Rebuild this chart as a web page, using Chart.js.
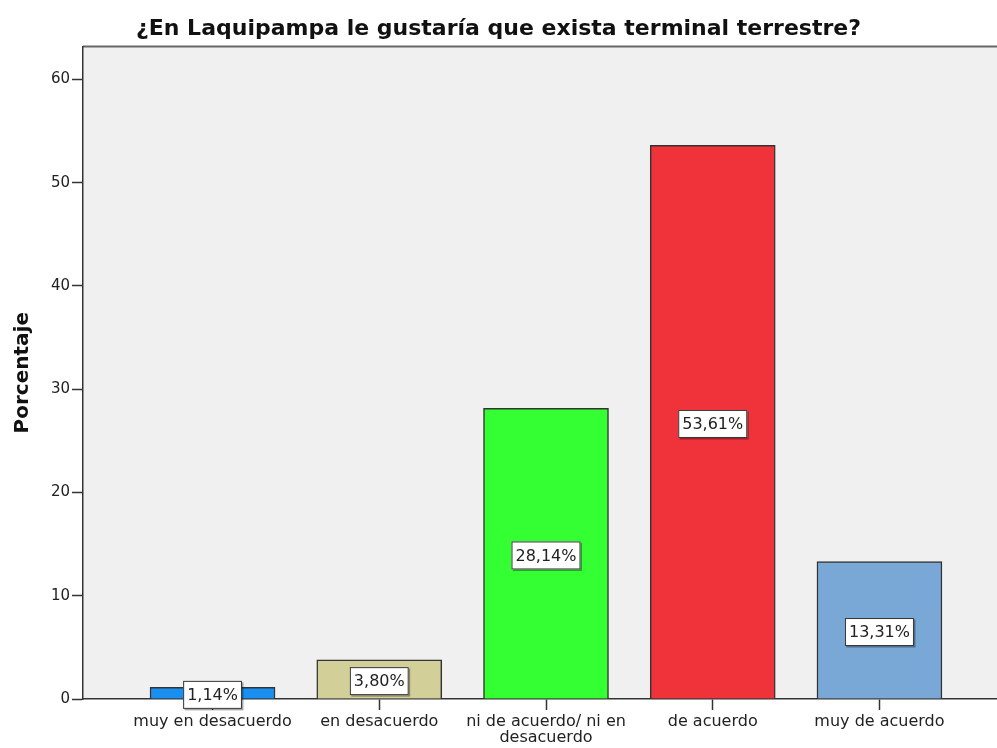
<!DOCTYPE html>
<html>
<head>
<meta charset="utf-8">
<script src="https://cdn.jsdelivr.net/npm/chart.js@4"></script>
<style>
  html, body { margin: 0; padding: 0; background: #fff; }
  canvas { display: block; }
</style>
</head>
<body>
<canvas id="myChart" width="997" height="748"></canvas>
<script>
// data
const categories = [
    "muy en desacuerdo",
    "en desacuerdo",
    ["ni de acuerdo/ ni en", "desacuerdo"],
    "de acuerdo",
    "muy de acuerdo",
];
const percentages = [1.14, 3.8, 28.14, 53.61, 13.31];
const barColors = ["#1a8ff2", "#d3cf99", "#33ff33", "#f0323a", "#79a8d6"];
const yTicks = [0, 10, 20, 30, 40, 50, 60];

const textColor = "#222";
const lineColor = "#333";

Chart.defaults.font.family = "'DejaVu Sans', sans-serif";
Chart.defaults.color = textColor;

// grey plot background + top frame line
const plotBackground = {
    id: "plotBackground",
    beforeDraw(chart) {
        const { ctx, chartArea: a } = chart;
        ctx.save();
        ctx.fillStyle = "#f0f0f0";
        ctx.fillRect(a.left, a.top, a.right - a.left, a.bottom - a.top);
        ctx.strokeStyle = "#666";
        ctx.lineWidth = 2;
        ctx.beginPath();
        ctx.moveTo(a.left, a.top);
        ctx.lineTo(a.right, a.top);
        ctx.stroke();
        ctx.restore();
    },
};

// white boxes with the percentage in the middle of each bar
const barLabels = {
    id: "barLabels",
    afterDatasetsDraw(chart) {
        const { ctx } = chart;
        const meta = chart.getDatasetMeta(0);
        ctx.save();
        ctx.font = "16px 'DejaVu Sans', sans-serif";
        ctx.textAlign = "center";
        ctx.textBaseline = "middle";
        meta.data.forEach((bar, i) => {
            const text = percentages[i].toFixed(2).replace(".", ",") + "%";
            const w = ctx.measureText(text).width + 8;
            const h = 28;
            const cx = bar.x;
            const cy = (bar.y + bar.base) / 2 + 2;
            // little shadow
            ctx.fillStyle = "rgba(0,0,0,0.35)";
            ctx.fillRect(cx - w / 2 + 1.5, cy - h / 2 + 1.5, w, h);
            ctx.fillStyle = "#fff";
            ctx.fillRect(cx - w / 2, cy - h / 2, w, h);
            ctx.strokeStyle = lineColor;
            ctx.lineWidth = 1;
            ctx.strokeRect(cx - w / 2 + 0.5, cy - h / 2 + 0.5, w - 1, h - 1);
            ctx.fillStyle = textColor;
            ctx.fillText(text, cx, cy + 1);
        });
        ctx.restore();
    },
};

const ctx = document.getElementById("myChart").getContext("2d");
const chart = new Chart(ctx, {
    type: "bar",
    data: {
        datasets: [
            {
                data: percentages.map((v, i) => ({ x: i, y: v })),
                backgroundColor: barColors,
                borderColor: lineColor,
                borderWidth: 1.5,
                barThickness: 125,
            },
        ],
    },
    plugins: [plotBackground, barLabels],
    options: {
        responsive: false,
        animation: false,
        layout: { padding: 0 },
        plugins: {
            legend: { display: false },
            tooltip: { enabled: false },
            title: {
                display: true,
                text: "¿En Laquipampa le gustaría que exista terminal terrestre?",
                color: "#111",
                font: { size: 22, weight: "bold" },
                padding: { top: 16, bottom: 4 },
            },
        },
        scales: {
            x: {
                type: "linear",
                offset: false,
                min: -0.777,
                max: 4.705,
                afterBuildTicks: (scale) => {
                    scale.ticks = categories.map((c, i) => ({ value: i }));
                },
                afterFit: (scale) => {
                    scale.height = 49;
                },
                grid: {
                    offset: false,
                    drawOnChartArea: false,
                    tickLength: 11,
                    tickColor: lineColor,
                    tickWidth: 1.5,
                },
                border: { color: lineColor, width: 1.5 },
                ticks: {
                    autoSkip: false,
                    maxRotation: 0,
                    padding: 4,
                    font: { size: 16, lineHeight: 1.0 },
                    callback: (value) => categories[value],
                },
            },
            y: {
                min: 0,
                max: 63.2,
                afterBuildTicks: (scale) => {
                    scale.ticks = yTicks.map((v) => ({ value: v }));
                },
                afterFit: (scale) => {
                    scale.width = 83;
                },
                grid: {
                    drawOnChartArea: false,
                    tickLength: 11,
                    tickColor: lineColor,
                    tickWidth: 1.5,
                },
                border: { color: lineColor, width: 1.5 },
                ticks: {
                    padding: 2,
                    font: { size: 15 },
                },
                title: {
                    display: true,
                    text: "Porcentaje",
                    color: "#111",
                    font: { size: 20, weight: "bold" },
                    padding: { top: 11, bottom: 0 },
                },
            },
        },
    },
});
</script>
</body>
</html>
